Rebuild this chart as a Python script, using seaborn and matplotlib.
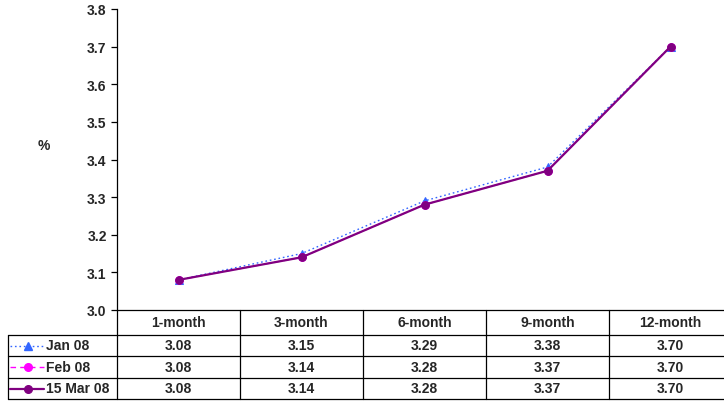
import matplotlib
matplotlib.use("Agg")
import matplotlib.pyplot as plt
import seaborn as sns
import pandas as pd
from matplotlib.lines import Line2D

categories = ["1-month", "3-month", "6-month", "9-month", "12-month"]
series_names = ["Jan 08", "Feb 08", "15 Mar 08"]
jan08 = [3.08, 3.15, 3.29, 3.38, 3.70]
feb08 = [3.08, 3.14, 3.28, 3.37, 3.70]
mar08 = [3.08, 3.14, 3.28, 3.37, 3.70]
y_ticks = [3.0, 3.1, 3.2, 3.3, 3.4, 3.5, 3.6, 3.7, 3.8]

sns.set_theme(style="white")
plt.rcParams['font.family'] = ['Liberation Sans', 'DejaVu Sans']
plt.rcParams['font.weight'] = 'bold'

FS = 10
W, H = 724, 402
fig = plt.figure(figsize=(W / 100, H / 100), dpi=100)
fig.patch.set_facecolor("white")

ax_left, ax_right, ax_top, ax_bot = 117, 732, 10, 311
ax = fig.add_axes([ax_left / W, 1 - ax_bot / H, (ax_right - ax_left) / W, (ax_bot - ax_top) / H])
ax.set_facecolor("white")

styles = {
    "Jan 08": dict(color="#3366FF", linestyle=(0, (1.2, 2)), marker="^", lw=1.0, ms=5.5),
    "Feb 08": dict(color="#FF00FF", linestyle=(0, (4, 3)), marker="o", lw=1.0, ms=5.5),
    "15 Mar 08": dict(color="#800080", linestyle="-", marker="o", lw=1.6, ms=5.5),
}
values = {"Jan 08": jan08, "Feb 08": feb08, "15 Mar 08": mar08}

xs = list(range(len(categories)))
for name in series_names:
    st = styles[name]
    df = pd.DataFrame({"x": xs, "y": values[name]})
    sns.lineplot(data=df, x="x", y="y", ax=ax, color=st["color"], linestyle=st["linestyle"],
                 linewidth=st["lw"], marker=st["marker"], markersize=st["ms"],
                 markeredgecolor=st["color"], markerfacecolor=st["color"], legend=False)

ax.set_xlim(-0.5, len(categories) - 0.5)
ax.set_ylim(3.0, 3.8)
ax.set_yticks(y_ticks)
ax.set_yticklabels([f"{v:.1f}" for v in y_ticks], fontsize=FS, fontweight="bold")
ax.set_xticks([])
ax.set_xlabel("")
ax.set_ylabel("")
for s in ["top", "right", "bottom"]:
    ax.spines[s].set_visible(False)
ax.spines["left"].set_color("black")
ax.spines["left"].set_linewidth(0.9)
ax.tick_params(axis="y", which="major", left=True, length=4.5, width=0.9, color="black", pad=3)

fig.text(44 / W, 1 - 146 / H, "%", fontsize=FS, fontweight="bold", ha="center", va="center")

# data table below the plot
def fx(px):
    return px / W

def fy(py):
    return 1 - py / H

col_w = (ax_right - ax_left) / len(categories)
rows_y = [311, 336, 357, 379, 400]
lc = "black"
lw = 0.9
fig.add_artist(Line2D([fx(ax_left), fx(ax_right)], [fy(311), fy(311)], color=lc, lw=lw))
for yy in rows_y[1:]:
    fig.add_artist(Line2D([fx(8), fx(ax_right)], [fy(yy), fy(yy)], color=lc, lw=lw))
fig.add_artist(Line2D([fx(8), fx(8)], [fy(336), fy(400)], color=lc, lw=lw))
for i in range(len(categories) + 1):
    xx = ax_left + i * col_w
    fig.add_artist(Line2D([fx(xx), fx(xx)], [fy(311), fy(400)], color=lc, lw=lw))

for i, c in enumerate(categories):
    fig.text(fx(ax_left + (i + 0.5) * col_w), fy((311 + 336) / 2), c, fontsize=FS,
             fontweight="bold", ha="center", va="center")

all_vals = [jan08, feb08, mar08]
for r, name in enumerate(series_names):
    yc = (rows_y[r + 1] + rows_y[r + 2]) / 2
    st = styles[name]
    fig.add_artist(Line2D([fx(10), fx(44)], [fy(yc), fy(yc)], color=st["color"],
                          linestyle=st["linestyle"], lw=st["lw"]))
    fig.add_artist(Line2D([fx(27.5)], [fy(yc)], color=st["color"], marker=st["marker"],
                          markersize=st["ms"], linestyle="none"))
    fig.text(fx(46), fy(yc), name, fontsize=FS, fontweight="bold", ha="left", va="center")
    for i, v in enumerate(all_vals[r]):
        fig.text(fx(ax_left + (i + 0.5) * col_w), fy(yc), f"{v:.2f}", fontsize=FS,
                 fontweight="bold", ha="center", va="center")

fig.savefig("out.png", dpi=100, facecolor="white")
